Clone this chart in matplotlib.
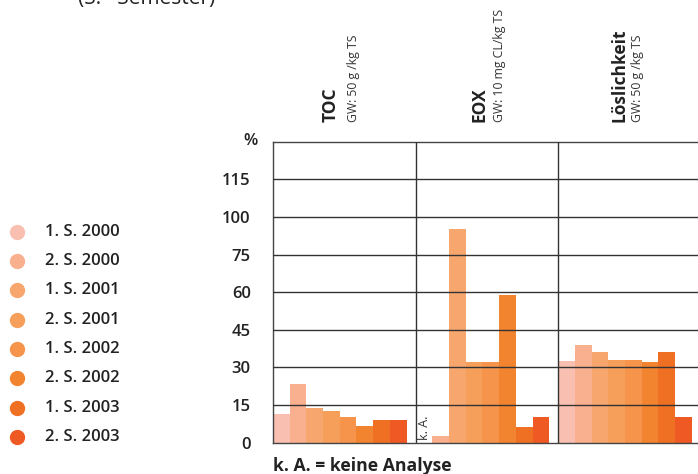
import numpy as np
import matplotlib
matplotlib.use("Agg")
import matplotlib.pyplot as plt
from matplotlib.lines import Line2D

plt.rcParams['font.family'] = ['Open Sans', 'DejaVu Sans']

# Daten
semester = ["1. S. 2000", "2. S. 2000", "1. S. 2001", "2. S. 2001",
            "1. S. 2002", "2. S. 2002", "1. S. 2003", "2. S. 2003"]
farben = ["#F9BFB0", "#F8B08F", "#F7A66E", "#F69F5B",
          "#F5944A", "#F3842F", "#F07023", "#EF5A24"]

parameter = ["TOC", "EOX", "Löslichkeit"]
grenzwerte = ["GW: 50 g /kg TS", "GW: 10 mg CL/kg TS", "GW: 50 g /kg TS"]

toc = [11.4, 23.4, 13.9, 12.6, 10.4, 6.6, 9.0, 9.0]
eox = [None, 2.7, 92.0, 32.1, 32.1, 58.8, 6.4, 10.2]   # None = k. A.
loeslichkeit = [32.5, 38.9, 36.1, 33.0, 33.0, 32.1, 36.1, 10.2]

y_ticks = [0, 15, 30, 45, 60, 75, 100, 115]

# Achse: Teilstriche gleichmaessig verteilt
skala_werte = y_ticks + [130]
skala_pos = list(range(len(skala_werte)))


def vorwaerts(v):
    return np.interp(v, skala_werte, skala_pos)


def rueckwaerts(p):
    return np.interp(p, skala_pos, skala_werte)


W, H = 698, 474


def fx(px):
    return px / W


def fy(py):
    return 1 - py / H


fig = plt.figure(figsize=(6.98, 4.74), dpi=100)
ax = fig.add_axes([fx(273), fy(442.7), fx(701) - fx(273), fy(141.7) - fy(442.7)])
ax.set_yscale('function', functions=(vorwaerts, rueckwaerts))

breite = 0.117
for p, werte in enumerate([toc, eox, loeslichkeit]):
    for i, v in enumerate(werte):
        if v is None:
            ax.text(p + (i + 0.5) * breite, 1.2, "k. A.", rotation=90,
                    ha='center', va='bottom', fontsize=9, color='#333333')
            continue
        ax.bar(p + i * breite, v, width=breite, align='edge',
               color=farben[i], zorder=1)

ax.set_xlim(0, 3)
ax.set_ylim(0, 130)
ax.set_yticks(y_ticks)
ax.set_yticklabels([str(t) for t in y_ticks], fontsize=12, fontweight='semibold',
                   color='#222222')
ax.tick_params(axis='y', length=0, pad=16)
ax.set_xticks([])

for t in y_ticks[1:]:
    ax.axhline(t, color='#333333', lw=1.0, zorder=3)
for p in [1, 2]:
    ax.axvline(p, color='#333333', lw=1.0, zorder=3)

for s in ['left', 'bottom', 'top']:
    ax.spines[s].set_color('#444444')
    ax.spines[s].set_linewidth(1.0)
ax.spines['right'].set_visible(False)

# Kopfzeilen der Spalten
titel_x = [331, 479, 619]
gw_x = [353, 500, 638]
for name, gw, tx, gx in zip(parameter, grenzwerte, titel_x, gw_x):
    fig.text(fx(tx), fy(122), name, rotation=90, ha='center', va='bottom',
             fontsize=12.5, fontweight='bold', color='#222222')
    fig.text(fx(gx), fy(122), gw, rotation=90, ha='center', va='bottom',
             fontsize=8.8, color='#333333')

fig.text(fx(258), fy(141), "%", ha='right', va='center', fontsize=12,
         fontweight='semibold', color='#222222')

# Legende
for i, (lab, c) in enumerate(zip(semester, farben)):
    y = fy(231.7 + i * 29.3)
    fig.add_artist(Line2D([fx(17)], [y], marker='o', ms=10, color=c, ls='',
                          transform=fig.transFigure))
    fig.text(fx(45), y, lab, ha='left', va='center', fontsize=12,
             fontweight='semibold', color='#222222')

fig.text(fx(78), fy(4), "(S.   Semester)", ha='left', va='baseline',
         fontsize=15, color='#222222')
fig.text(fx(273), fy(466), "k. A. = keine Analyse", ha='left', va='center',
         fontsize=12.7, fontweight='bold', color='#222222')

fig.savefig("out.png", dpi=100)
